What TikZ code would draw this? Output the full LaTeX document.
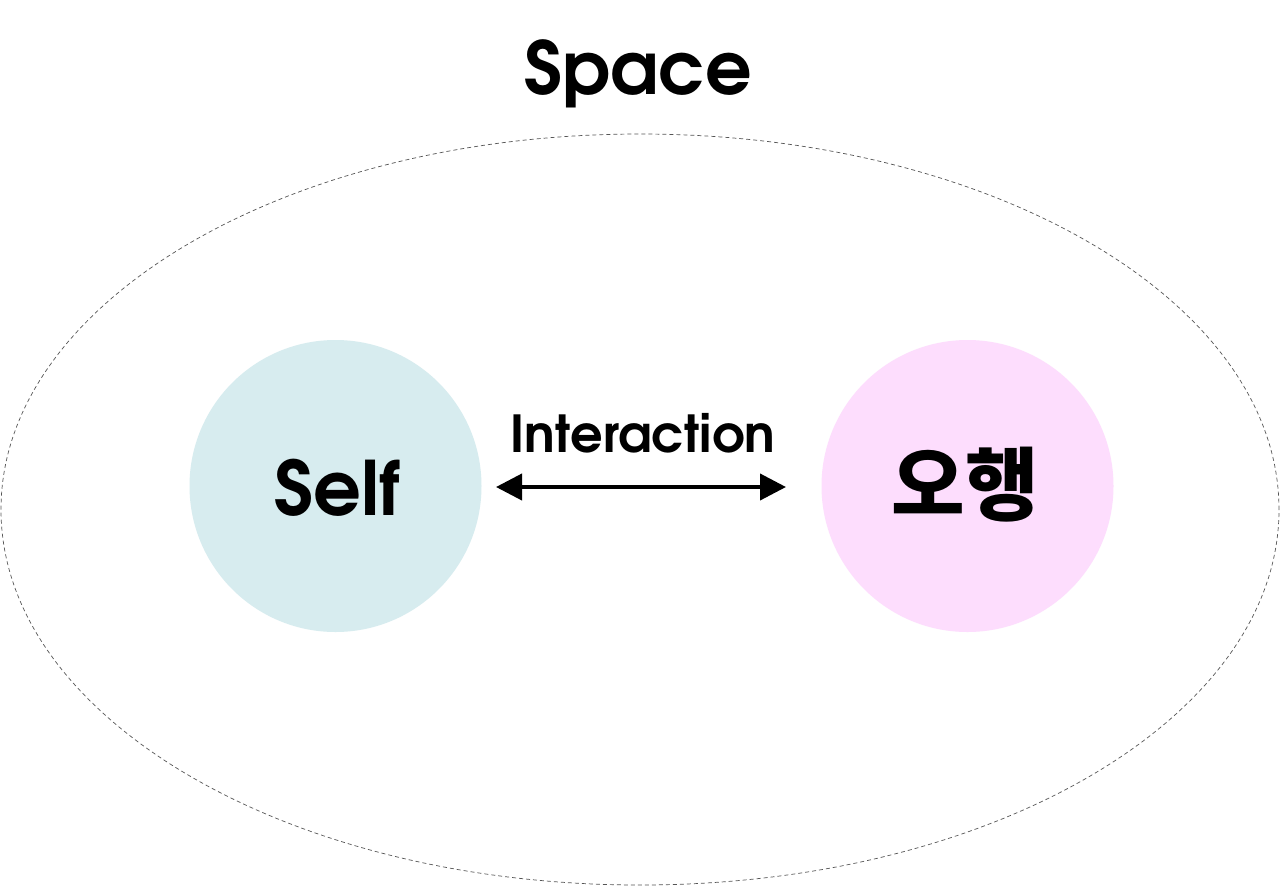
\documentclass[tikz,border=0pt]{standalone}
\usepackage{fontspec}
\setmainfont{TeX Gyre Adventor}
\newfontfamily\krfont{Noto Sans CJK KR}
\usetikzlibrary{arrows.meta,shapes.geometric}
\definecolor{selfblue}{HTML}{D7ECEF}
\definecolor{ohpink}{HTML}{FDDDFD}
\definecolor{dashgray}{HTML}{555555}
\begin{document}
\begin{tikzpicture}[x=1pt,y=-1pt,
  blob/.style={circle, minimum size=292pt, inner sep=0pt},
  lbl/.style={inner sep=0pt, anchor=base, font=\bfseries},
]
\useasboundingbox (0,0) rectangle (1280,887);
\fill[white] (0,0) rectangle (1280,887);
\node[ellipse, draw=dashgray, dash pattern=on 4pt off 3pt, line width=0.7pt,
  minimum width=1278pt, minimum height=751pt, inner sep=0pt] (space) at (640,509.5) {};
\node[lbl, font=\bfseries\fontsize{73}{80}\selectfont] (title) at (638,94) {Space};
\node[blob, fill=selfblue] (self) at (335.5,486) {};
\node[blob, fill=ohpink] (oh) at (967.5,486) {};
\node[lbl, font=\bfseries\fontsize{75}{80}\selectfont] (selftxt) at (337,515) {Self};
\node[lbl, font=\krfont\bfseries\fontsize{80}{90}\selectfont] (ohtxt) at (965,514) {오행};
\node[lbl, font=\bfseries\fontsize{51}{60}\selectfont] (inter) at (643,452) {Interaction};
\coordinate (a1) at (496,487);
\coordinate (a2) at (786,487);
\draw[line width=4pt, {Triangle[length=26pt,width=26pt]}-{Triangle[length=26pt,width=26pt]}] (a1) -- (a2);
\end{tikzpicture}
\end{document}
